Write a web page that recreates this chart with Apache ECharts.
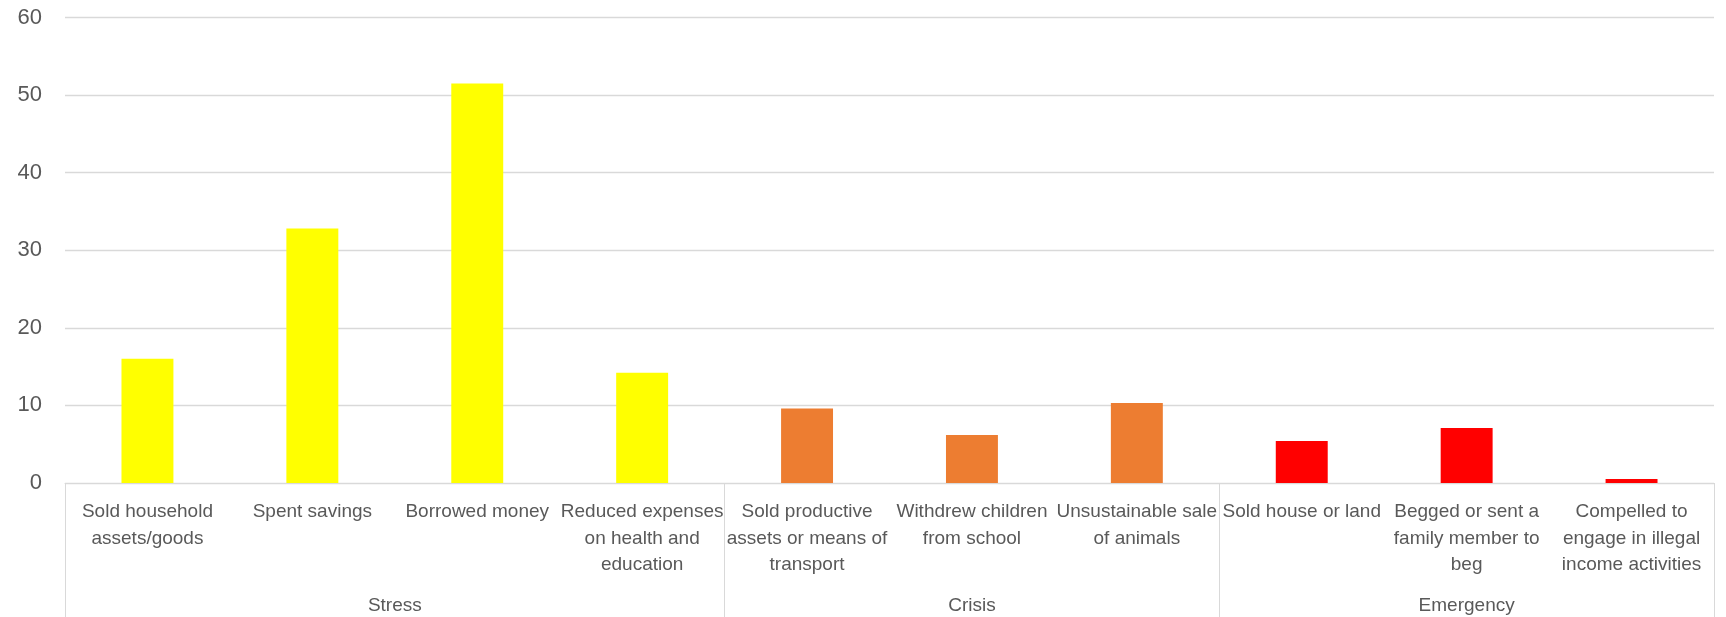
<!DOCTYPE html>
<html>
<head>
<meta charset="utf-8">
<script src="https://cdn.jsdelivr.net/npm/echarts@6/dist/echarts.min.js"></script>
<style>
  html, body { margin: 0; padding: 0; background: #ffffff; }
  #chart { width: 1726px; height: 617px; }
</style>
</head>
<body>
<div id="chart"></div>
<script>
// Coping strategies (label text, line breaks as shown under the axis)
const categories = [
  'Sold household\nassets/goods',
  'Spent savings',
  'Borrowed money',
  'Reduced expenses\non health and\neducation',
  'Sold productive\nassets or means of\ntransport',
  'Withdrew children\nfrom school',
  'Unsustainable sale\nof animals',
  'Sold house or land',
  'Begged or sent a\nfamily member to\nbeg',
  'Compelled to\nengage in illegal\nincome activities'
];

// Share of households using each strategy (%)
const values = [16.0, 32.8, 51.5, 14.2, 9.6, 6.2, 10.3, 5.4, 7.1, 0.5];

// Severity groups and how many strategies fall in each
const groups = ['Stress', 'Crisis', 'Emergency'];
const groupSizes = [4, 3, 3];
const groupColors = ['#FFFF00', '#ED7D31', '#FF0000'];

const yTicks = [0, 10, 20, 30, 40, 50, 60];

// Index of the group each category belongs to, and first index of each group
const groupOf = [];
const groupStarts = [];
const groupCenters = {};
let start = 0;
groups.forEach((g, gi) => {
  groupStarts.push(start);
  groupCenters[start + groupSizes[gi] / 2] = g;
  for (let k = 0; k < groupSizes[gi]; k++) groupOf.push(gi);
  start += groupSizes[gi];
});

const textColor = '#595959';
const lineColor = '#d9d9d9';
const font = '"Liberation Sans", Arial, sans-serif';

const chart = echarts.init(document.getElementById('chart'), null, { renderer: 'canvas' });

chart.setOption({
  backgroundColor: '#ffffff',
  animation: false,
  grid: {
    left: 65,
    right: 12,
    top: 17.5,
    bottom: 134,
    containLabel: false,
    outerBoundsMode: 'none'
  },
  xAxis: [
    {
      type: 'category',
      data: categories,
      position: 'bottom',
      axisLine: { show: true, lineStyle: { color: lineColor, width: 1 } },
      axisTick: {
        show: true,
        interval: (index) => groupStarts.indexOf(index) !== -1,
        length: 140,
        lineStyle: { color: lineColor, width: 1 }
      },
      axisLabel: {
        interval: 0,
        color: textColor,
        fontFamily: font,
        fontSize: 19,
        lineHeight: 26.5,
        margin: 16,
        align: 'center'
      },
      splitLine: { show: false }
    },
    {
      // Group names centred under their strategies
      type: 'value',
      position: 'bottom',
      min: 0,
      max: categories.length,
      interval: 0.5,
      axisLine: { show: false },
      axisTick: { show: false },
      splitLine: { show: false },
      axisLabel: {
        color: textColor,
        fontFamily: font,
        fontSize: 19,
        lineHeight: 26,
        margin: 110,
        showMinLabel: true,
        showMaxLabel: true,
        formatter: (v) => groupCenters[v] || ''
      }
    }
  ],
  yAxis: {
    type: 'value',
    min: yTicks[0],
    max: yTicks[yTicks.length - 1],
    interval: 10,
    axisLine: { show: false },
    axisTick: { show: false },
    axisLabel: {
      color: textColor,
      fontFamily: font,
      fontSize: 22,
      margin: 23
    },
    splitLine: { show: true, lineStyle: { color: lineColor, width: 1.3 } }
  },
  series: [
    {
      type: 'bar',
      xAxisIndex: 0,
      barWidth: '31.5%',
      data: values.map((v, i) => ({
        value: v,
        itemStyle: { color: groupColors[groupOf[i]] }
      }))
    }
  ]
});
</script>
</body>
</html>
